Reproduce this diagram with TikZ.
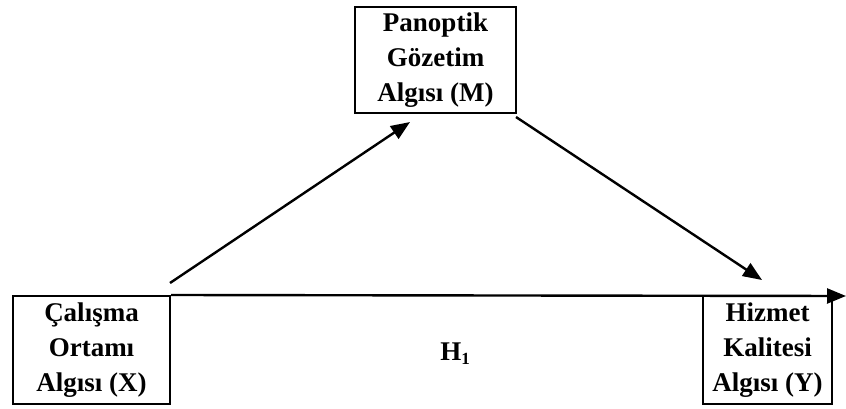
\documentclass[tikz,border=0pt]{standalone}
\usepackage{fontspec}
\setmainfont{Liberation Serif}
\usetikzlibrary{arrows.meta}
\begin{document}
\begin{tikzpicture}[x=1pt,y=-1pt,
  varbox/.style={draw,line width=2pt,align=center,inner sep=0pt,
    font=\fontsize{27}{35}\selectfont\bfseries},
  link/.style={line width=2.4pt,-{Triangle[length=19pt,width=15pt]}}]
  \useasboundingbox (0,0) rectangle (846,409);
  % variable boxes
  \node[varbox,minimum width=157pt,minimum height=108pt] (X) at (91.5,350) {Çalışma\\Ortamı\\Algısı (X)};
  \node[varbox,minimum width=161pt,minimum height=106pt] (M) at (435.5,60) {Panoptik\\Gözetim\\Algısı (M)};
  \node[varbox,minimum width=129pt,minimum height=108pt] (Y) at (767.5,350) {Hizmet\\Kalitesi\\Algısı (Y)};
  % direct effect label
  \node[font=\fontsize{27}{30}\selectfont\bfseries] (H) at (455,354) {H\raisebox{-0.3ex}{\fontsize{17}{17}\selectfont 1}};
  % arrow end points
  \coordinate (xm0) at (170,283);
  \coordinate (xm1) at (410,122);
  \coordinate (my0) at (516,117);
  \coordinate (my1) at (762,280);
  \coordinate (xy1) at (846,296);
  % paths
  \draw[link] (X.north east) -- (xy1);
  \draw[link] (xm0) -- (xm1);
  \draw[link] (my0) -- (my1);
\end{tikzpicture}
\end{document}
